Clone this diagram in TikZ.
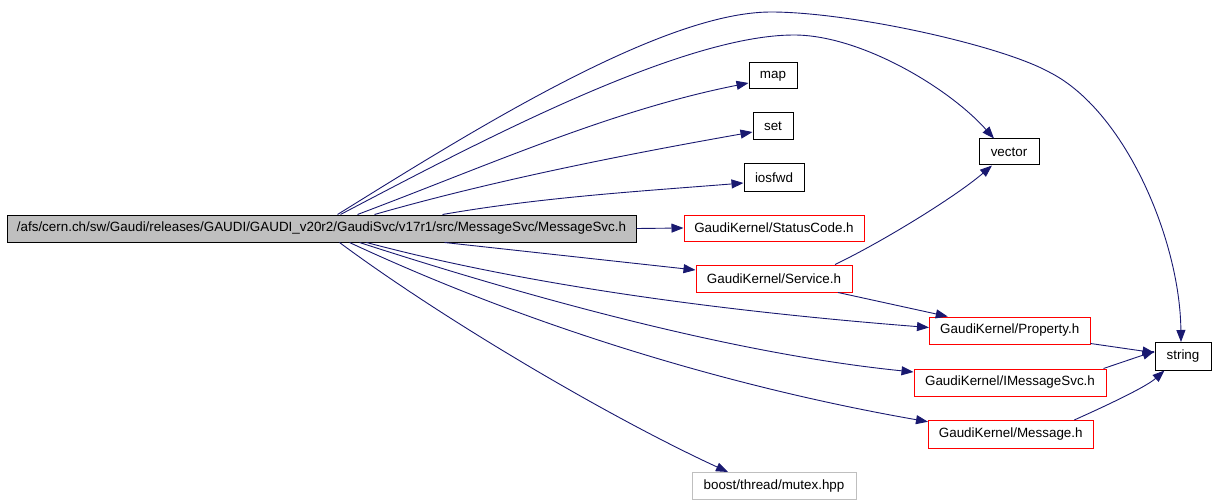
\documentclass[tikz,border=0pt]{standalone}
\usepackage{fontspec}
\setmainfont{Liberation Sans}
\usetikzlibrary{arrows.meta}
\definecolor{edgeblue}{RGB}{25,25,112}
\definecolor{boxgray}{RGB}{191,191,191}
\begin{document}
\begin{tikzpicture}[x=1pt,y=-1pt,
  box/.style={draw=black,line width=1pt,inner sep=0pt,font=\fontsize{13.4}{15}\selectfont,anchor=center},
  redbox/.style={box,draw=red},
  graybox/.style={box,draw=boxgray},
  mainbox/.style={box,fill=boxgray},
  edge/.style={draw=edgeblue,line width=0.9pt,-{Triangle[length=12pt,width=9pt]}}]
\useasboundingbox (0,0) rectangle (1213,500);
% nodes
\node[mainbox,minimum width=629pt,minimum height=27pt] (main) at (321.5,228.5) {/afs/cern.ch/sw/Gaudi/releases/GAUDI/GAUDI\_v20r2/GaudiSvc/v17r1/src/MessageSvc/MessageSvc.h};
\node[box,minimum width=48pt,minimum height=26pt] (map) at (773,76) {map};
\node[box,minimum width=40pt,minimum height=27pt] (set) at (773,126.5) {set};
\node[box,minimum width=60pt,minimum height=27pt] (iosfwd) at (774,177.5) {iosfwd};
\node[box,minimum width=60pt,minimum height=26pt] (vector) at (1009,152) {vector};
\node[redbox,minimum width=180pt,minimum height=26pt] (status) at (774,228) {GaudiKernel/StatusCode.h};
\node[redbox,minimum width=156pt,minimum height=27pt] (service) at (774,278.5) {GaudiKernel/Service.h};
\node[redbox,minimum width=160.5pt,minimum height=27pt] (property) at (1009.75,330.5) {GaudiKernel/Property.h};
\node[box,minimum width=56pt,minimum height=27.5pt] (string) at (1183,356.25) {string};
\node[redbox,minimum width=192pt,minimum height=27pt] (imsg) at (1010,382.5) {GaudiKernel/IMessageSvc.h};
\node[redbox,minimum width=164.5pt,minimum height=27.5pt] (message) at (1010.75,434.25) {GaudiKernel/Message.h};
\node[graybox,minimum width=164pt,minimum height=27pt] (boost) at (774,486) {boost/thread/mutex.hpp};
% edges from main
\draw[edge] ([xshift=331pt]main.north west) .. controls (465,135.5) and (660,12) .. (771,12)
   .. controls (850,12) and (1000,45) .. (1049,72)
   .. controls (1125,110) and (1180,240) .. ([xshift=-2pt]string.north);
\draw[edge] ([xshift=334pt]main.north west) .. controls (473,145) and (680,35) .. (794,35)
   .. controls (860,35) and (948,87) .. ([xshift=-15pt]vector.north);
\draw[edge] ([xshift=351pt]main.north west) .. controls (489,165) and (612,110) .. ([yshift=-7pt]map.west);
\draw[edge] ([xshift=368pt]main.north west) .. controls (495,180) and (628,154) .. ([yshift=-5.5pt]set.west);
\draw[edge] ([xshift=436pt]main.north west) .. controls (543,197) and (644,191) .. ([yshift=-5.5pt]iosfwd.west);
\draw[edge] (main.east) -- (status.west);
\draw[edge] ([xshift=438pt]main.south west) -- ([yshift=8.5pt]service.west);
\draw[edge] ([xshift=360pt]main.south west) .. controls (541,289) and (750,313.5) .. ([yshift=3pt]property.west);
\draw[edge] ([xshift=353pt]main.south west) .. controls (531,298) and (735,354) .. ([yshift=10.5pt]imsg.west);
\draw[edge] ([xshift=343pt]main.south west) .. controls (531,327) and (731.5,387.4) .. ([yshift=12.5pt]message.west);
\draw[edge] ([xshift=333pt]main.south west) .. controls (444,320) and (610,417.7) .. ([xshift=-46pt]boost.north);
% other edges
\draw[edge] ([xshift=61pt]service.north) .. controls (880,243) and (954,198) .. ([xshift=-17pt]vector.south);
\draw[edge] ([xshift=64pt]service.south) -- ([xshift=-62pt]property.north);
\draw[edge] ([yshift=1pt]property.south east) -- ([yshift=3.5pt]string.west);
\draw[edge] ([xshift=-3pt]imsg.north east) -- ([yshift=5pt]string.west);
\draw[edge] ([xshift=63.5pt]message.north) .. controls (1106,405.8) and (1146,387) .. ([xshift=-18.5pt]string.south);
\end{tikzpicture}
\end{document}
